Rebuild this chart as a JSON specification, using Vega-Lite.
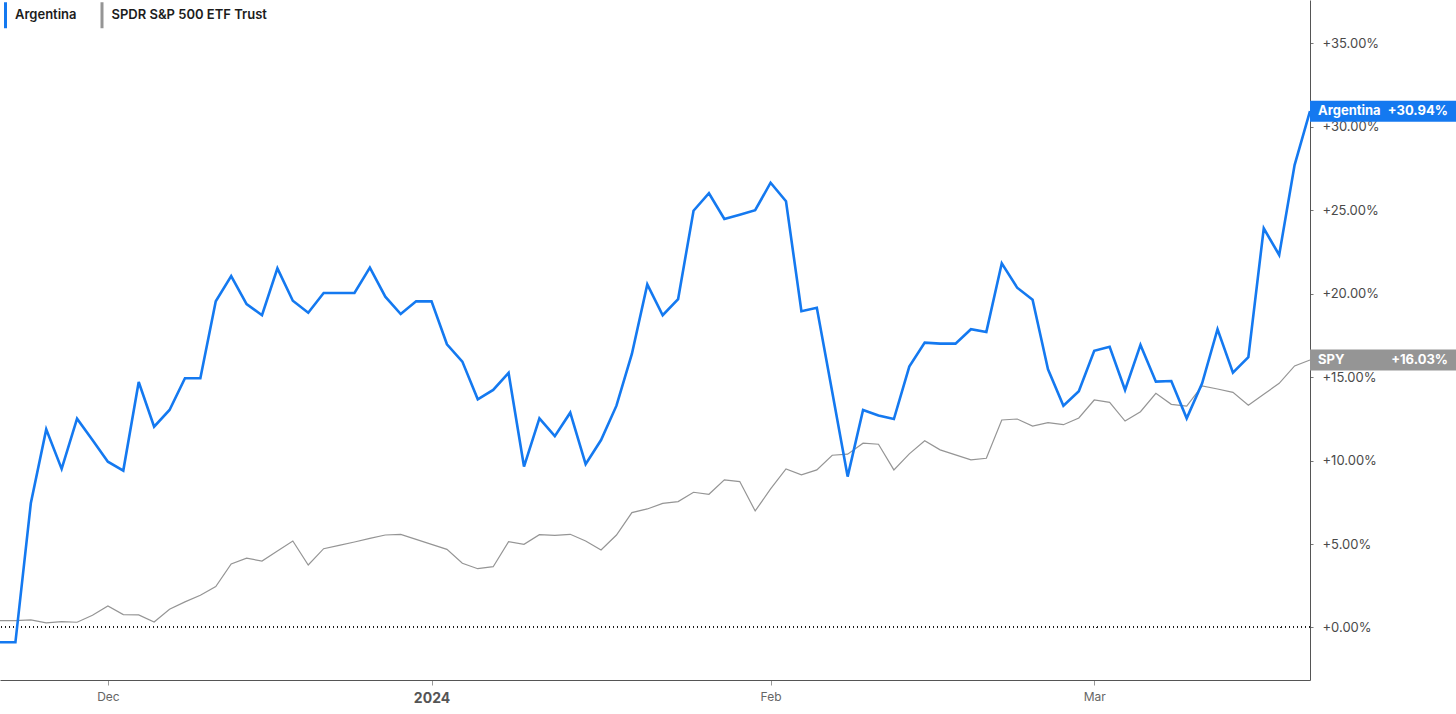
{
  "$schema": "https://vega.github.io/schema/vega-lite/v6.json",
  "width": 1310,
  "height": 680,
  "autosize": {"type": "none"},
  "padding": {"left": 0, "top": 0, "right": 146, "bottom": 34},
  "background": "white",
  "config": {"view": {"stroke": null}, "font": "Inter"},
  "data": {"values": [
    {"date":"2023-11-22","Argentina":-0.89,"SPY":0.41},
    {"date":"2023-11-23","Argentina":-0.89,"SPY":0.41},
    {"date":"2023-11-24","Argentina":7.44,"SPY":0.45},
    {"date":"2023-11-27","Argentina":11.87,"SPY":0.27},
    {"date":"2023-11-28","Argentina":9.50,"SPY":0.35},
    {"date":"2023-11-29","Argentina":12.51,"SPY":0.31},
    {"date":"2023-11-30","Argentina":11.23,"SPY":0.73},
    {"date":"2023-12-01","Argentina":9.93,"SPY":1.29},
    {"date":"2023-12-04","Argentina":9.40,"SPY":0.77},
    {"date":"2023-12-05","Argentina":14.71,"SPY":0.75},
    {"date":"2023-12-06","Argentina":12.03,"SPY":0.33},
    {"date":"2023-12-07","Argentina":13.03,"SPY":1.09},
    {"date":"2023-12-08","Argentina":14.93,"SPY":1.53},
    {"date":"2023-12-11","Argentina":14.93,"SPY":1.93},
    {"date":"2023-12-12","Argentina":19.55,"SPY":2.45},
    {"date":"2023-12-13","Argentina":21.06,"SPY":3.80},
    {"date":"2023-12-14","Argentina":19.38,"SPY":4.15},
    {"date":"2023-12-15","Argentina":18.71,"SPY":3.98},
    {"date":"2023-12-18","Argentina":21.52,"SPY":4.58},
    {"date":"2023-12-19","Argentina":19.58,"SPY":5.18},
    {"date":"2023-12-20","Argentina":18.86,"SPY":3.74},
    {"date":"2023-12-21","Argentina":20.04,"SPY":4.72},
    {"date":"2023-12-22","Argentina":20.04,"SPY":4.92},
    {"date":"2023-12-25","Argentina":20.04,"SPY":5.12},
    {"date":"2023-12-26","Argentina":21.56,"SPY":5.34},
    {"date":"2023-12-27","Argentina":19.82,"SPY":5.54},
    {"date":"2023-12-28","Argentina":18.78,"SPY":5.58},
    {"date":"2023-12-29","Argentina":19.54,"SPY":5.28},
    {"date":"2024-01-01","Argentina":19.54,"SPY":4.98},
    {"date":"2024-01-02","Argentina":16.97,"SPY":4.68},
    {"date":"2024-01-03","Argentina":15.93,"SPY":3.85},
    {"date":"2024-01-04","Argentina":13.67,"SPY":3.52},
    {"date":"2024-01-05","Argentina":14.23,"SPY":3.64},
    {"date":"2024-01-08","Argentina":15.25,"SPY":5.14},
    {"date":"2024-01-09","Argentina":9.64,"SPY":4.98},
    {"date":"2024-01-10","Argentina":12.53,"SPY":5.56},
    {"date":"2024-01-11","Argentina":11.46,"SPY":5.52},
    {"date":"2024-01-12","Argentina":12.87,"SPY":5.58},
    {"date":"2024-01-16","Argentina":9.78,"SPY":5.18},
    {"date":"2024-01-17","Argentina":11.23,"SPY":4.64},
    {"date":"2024-01-18","Argentina":13.29,"SPY":5.54},
    {"date":"2024-01-19","Argentina":16.39,"SPY":6.88},
    {"date":"2024-01-22","Argentina":20.56,"SPY":7.10},
    {"date":"2024-01-23","Argentina":18.71,"SPY":7.43},
    {"date":"2024-01-24","Argentina":19.68,"SPY":7.54},
    {"date":"2024-01-25","Argentina":24.97,"SPY":8.10},
    {"date":"2024-01-26","Argentina":26.02,"SPY":7.98},
    {"date":"2024-01-29","Argentina":24.48,"SPY":8.84},
    {"date":"2024-01-30","Argentina":24.73,"SPY":8.74},
    {"date":"2024-01-31","Argentina":25.00,"SPY":6.98},
    {"date":"2024-02-01","Argentina":26.65,"SPY":8.30},
    {"date":"2024-02-02","Argentina":25.54,"SPY":9.50},
    {"date":"2024-02-05","Argentina":18.95,"SPY":9.14},
    {"date":"2024-02-06","Argentina":19.16,"SPY":9.44},
    {"date":"2024-02-07","Argentina":14.11,"SPY":10.32},
    {"date":"2024-02-08","Argentina":9.04,"SPY":10.38},
    {"date":"2024-02-09","Argentina":13.03,"SPY":11.04},
    {"date":"2024-02-12","Argentina":12.70,"SPY":10.98},
    {"date":"2024-02-13","Argentina":12.49,"SPY":9.44},
    {"date":"2024-02-14","Argentina":15.63,"SPY":10.40},
    {"date":"2024-02-15","Argentina":17.07,"SPY":11.19},
    {"date":"2024-02-16","Argentina":17.01,"SPY":10.64},
    {"date":"2024-02-19","Argentina":17.01,"SPY":10.34},
    {"date":"2024-02-20","Argentina":17.87,"SPY":10.04},
    {"date":"2024-02-21","Argentina":17.71,"SPY":10.14},
    {"date":"2024-02-22","Argentina":21.82,"SPY":12.43},
    {"date":"2024-02-23","Argentina":20.36,"SPY":12.49},
    {"date":"2024-02-26","Argentina":19.64,"SPY":12.07},
    {"date":"2024-02-27","Argentina":15.47,"SPY":12.27},
    {"date":"2024-02-28","Argentina":13.29,"SPY":12.15},
    {"date":"2024-02-29","Argentina":14.15,"SPY":12.55},
    {"date":"2024-03-01","Argentina":16.58,"SPY":13.63},
    {"date":"2024-03-04","Argentina":16.82,"SPY":13.49},
    {"date":"2024-03-05","Argentina":14.23,"SPY":12.37},
    {"date":"2024-03-06","Argentina":16.93,"SPY":12.93},
    {"date":"2024-03-07","Argentina":14.73,"SPY":14.03},
    {"date":"2024-03-08","Argentina":14.77,"SPY":13.37},
    {"date":"2024-03-11","Argentina":12.53,"SPY":13.27},
    {"date":"2024-03-12","Argentina":14.63,"SPY":14.47},
    {"date":"2024-03-13","Argentina":17.87,"SPY":14.29},
    {"date":"2024-03-14","Argentina":15.27,"SPY":14.09},
    {"date":"2024-03-15","Argentina":16.19,"SPY":13.31},
    {"date":"2024-03-18","Argentina":23.92,"SPY":13.97},
    {"date":"2024-03-19","Argentina":22.32,"SPY":14.63},
    {"date":"2024-03-20","Argentina":27.71,"SPY":15.67},
    {"date":"2024-03-21","Argentina":30.94,"SPY":16.03}
  ]},
  "encoding": {
    "x": {
      "field": "date", "type": "ordinal", "sort": null,
      "scale": {"type": "point", "padding": 0},
      "axis": {
        "title": null,
        "values": ["2023-12-01", "2024-01-01", "2024-02-01", "2024-03-01"],
        "labelExpr": "datum.value == '2023-12-01' ? 'Dec' : datum.value == '2024-01-01' ? '2024' : datum.value == '2024-02-01' ? 'Feb' : 'Mar'",
        "labelAngle": 0,
        "labelFont": "Inter",
        "labelFontSize": {"condition": {"test": "datum.value == '2024-01-01'", "value": 14}, "value": 12},
        "labelFontWeight": {"condition": {"test": "datum.value == '2024-01-01'", "value": "bold"}, "value": "normal"},
        "labelColor": {"condition": {"test": "datum.value == '2024-01-01'", "value": "#555555"}, "value": "#666666"},
        "labelPadding": 6,
        "tickSize": 5,
        "tickColor": "#999999",
        "domainColor": "#555555",
        "domainWidth": 1,
        "grid": false
      }
    }
  },
  "layer": [
    {
      "mark": {"type": "rule", "color": "#222222", "strokeDash": [1, 3], "strokeWidth": 1},
      "encoding": {"y": {"datum": 0, "type": "quantitative"}, "x": null}
    },
    {
      "mark": {"type": "line", "strokeWidth": 1.2, "interpolate": "linear"},
      "encoding": {
        "y": {
          "field": "SPY", "type": "quantitative",
          "scale": {"domain": [-3.15, 37.6], "nice": false, "zero": false},
          "axis": {
            "title": null, "orient": "right",
            "values": [0, 5, 10, 15, 20, 25, 30, 35],
            "labelExpr": "'+' + format(datum.value, '.2f') + '%'",
            "labelFont": "Inter", "labelFontSize": 13, "labelColor": "#4a4a4a",
            "labelPadding": 9, "tickSize": 3, "tickColor": "#777777",
            "domainColor": "#555555", "domainWidth": 1, "grid": false
          }
        },
        "color": {
          "datum": "SPY", "type": "nominal",
          "scale": {"domain": ["Argentina", "SPY"], "range": ["#1479F0", "#959595"]},
          "legend": {
            "title": null,
            "orient": "none",
            "legendX": -1,
            "legendY": 8.5,
            "direction": "horizontal",
            "padding": 0,
            "columnPadding": 18.5,
            "labelOffset": 3,
            "labelFont": "Inter",
            "labelFontSize": 13,
            "labelFontWeight": 600,
            "labelColor": "#1c1c1c",
            "symbolType": "M0,-6.5V6.5",
            "symbolSize": 16,
            "symbolStrokeWidth": 3,
            "labelExpr": "datum.value == 'SPY' ? 'SPDR S&P 500 ETF Trust' : datum.value",
            "encode": {"symbols": {"update": {"stroke": {"scale": "color", "field": "value"}, "strokeWidth": {"value": 3}, "fill": {"value": "transparent"}}}}
          }
        }
      }
    },
    {
      "mark": {"type": "line", "strokeWidth": 2.6, "interpolate": "linear"},
      "encoding": {
        "y": {"field": "Argentina", "type": "quantitative"},
        "color": {"datum": "Argentina", "type": "nominal"}
      }
    },
    {
      "transform": [
        {"filter": "datum.date == '2024-03-21'"},
        {"fold": ["Argentina", "SPY"], "as": ["key", "val"]},
        {"calculate": "format(datum.val, '+.2f') + '%'", "as": "lbl"}
      ],
      "layer": [
        {
          "mark": {"type": "rect", "width": 146, "height": 21, "xOffset": 73},
          "encoding": {
            "y": {"field": "val", "type": "quantitative"},
            "color": {"field": "key", "type": "nominal", "legend": null}
          }
        },
        {
          "mark": {"type": "text", "align": "left", "baseline": "middle", "dx": 8, "font": "Inter", "fontSize": 13, "fontWeight": "bold", "color": "white"},
          "encoding": {
            "y": {"field": "val", "type": "quantitative"},
            "text": {"field": "key"}
          }
        },
        {
          "mark": {"type": "text", "align": "right", "baseline": "middle", "dx": 138, "font": "Inter", "fontSize": 13, "fontWeight": "bold", "color": "white"},
          "encoding": {
            "y": {"field": "val", "type": "quantitative"},
            "text": {"field": "lbl"}
          }
        }
      ]
    }
  ]
}
